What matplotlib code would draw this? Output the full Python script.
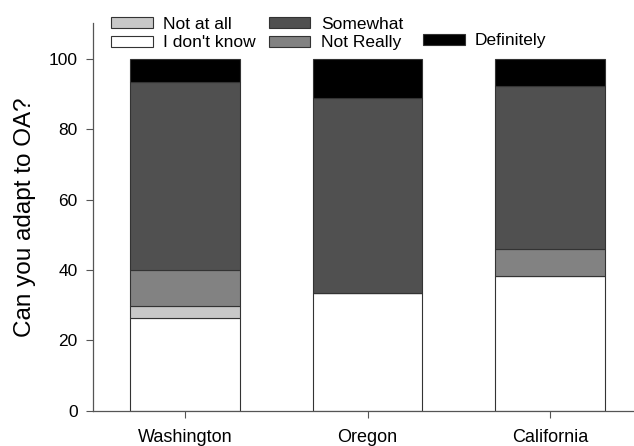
import matplotlib
matplotlib.use('Agg')
import matplotlib.pyplot as plt
from matplotlib.patches import Patch

plt.rcParams['font.family'] = ['Liberation Sans', 'DejaVu Sans']

# values (percent of respondents)
states = ['Washington', 'Oregon', 'California']
dont_know = [26.5, 33.4, 38.2]
not_at_all = [3.3, 0.0, 0.0]
not_really = [10.1, 0.0, 7.8]
somewhat = [53.4, 55.4, 46.3]
definitely = [6.7, 11.2, 7.7]

series = [
    ("I don't know", dont_know, 'white'),
    ('Not at all', not_at_all, '#c8c8c8'),
    ('Not Really', not_really, '#828282'),
    ('Somewhat', somewhat, '#505050'),
    ('Definitely', definitely, 'black'),
]

fig = plt.figure(figsize=(6.34, 4.46), dpi=100)
ax = fig.add_axes([0.1467, 0.0785, 0.8533, 0.8693])

x = list(range(len(states)))
bottom = [0.0] * len(states)
for name, vals, col in series:
    ax.bar(x, vals, width=0.6, bottom=bottom, color=col,
           edgecolor='#333333', linewidth=0.8, label=name)
    bottom = [b + v for b, v in zip(bottom, vals)]

ax.set_xlim(-0.505, 2.46)
ax.set_ylim(0, 110)
ax.set_yticks([0, 20, 40, 60, 80, 100])
ax.set_xticks(x)
ax.set_xticklabels(states, fontsize=13)
ax.tick_params(axis='y', labelsize=12.5, length=5, width=0.8, pad=6, color='#555555')
ax.tick_params(axis='x', length=5, width=0.8, pad=8, color='#555555')
ax.set_ylabel('Can you adapt to OA?', fontsize=17.5, labelpad=9)

for s in ['top', 'right']:
    ax.spines[s].set_visible(False)
for s in ['left', 'bottom']:
    ax.spines[s].set_color('#555555')
    ax.spines[s].set_linewidth(0.9)

def handle(col):
    return Patch(facecolor=col, edgecolor='#333333', linewidth=0.8)

leg_kw = dict(loc='upper left', frameon=False, fontsize=12.5, handlelength=2.4,
              handleheight=0.57, handletextpad=0.6, labelspacing=0.2,
              borderaxespad=0, borderpad=0)

leg1 = fig.legend([handle('#c8c8c8'), handle('white')], ['Not at all', "I don't know"],
                  bbox_to_anchor=(0.175, 0.962), **leg_kw)
leg2 = fig.legend([handle('#505050'), handle('#828282')], ['Somewhat', 'Not Really'],
                  bbox_to_anchor=(0.424, 0.962), **leg_kw)
leg3 = fig.legend([handle('black')], ['Definitely'],
                  bbox_to_anchor=(0.667, 0.925), **leg_kw)

fig.savefig('out.png', dpi=100)
